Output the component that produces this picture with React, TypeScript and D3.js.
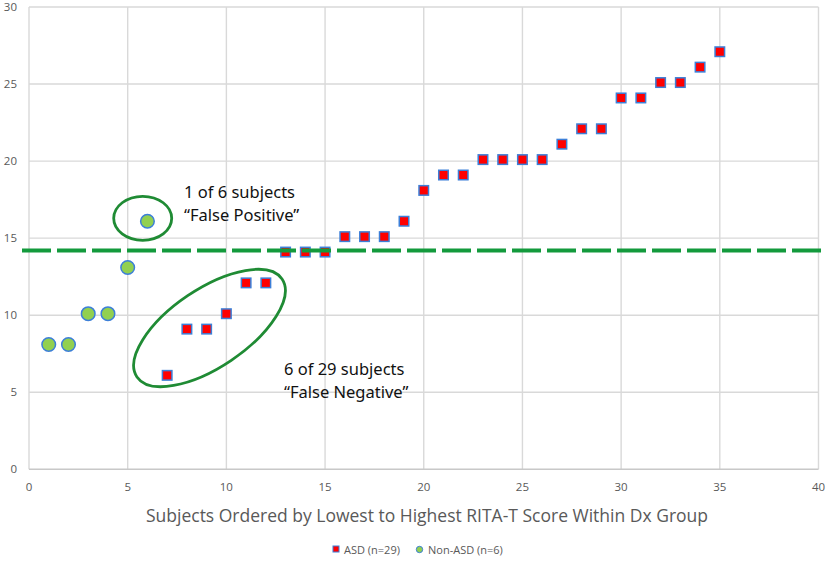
import React from "react";
import * as d3 from "d3";

const asdX = [7, 8, 9, 10, 11, 12, 13, 14, 15, 16, 17, 18, 19, 20, 21, 22, 23, 24, 25, 26, 27, 28, 29, 30, 31, 32, 33, 34, 35];
const asdY = [6, 9, 9, 10, 12, 12, 14, 14, 14, 15, 15, 15, 16, 18, 19, 19, 20, 20, 20, 20, 21, 22, 22, 24, 24, 25, 25, 26, 27];
const nonX = [1, 2, 3, 4, 5, 6];
const nonY = [8, 8, 10, 10, 13, 16];
const xTicks = [0, 5, 10, 15, 20, 25, 30, 35, 40];
const yTicks = [0, 5, 10, 15, 20, 25, 30];
const cutoff = 14.2;
const xTitle = "Subjects Ordered by Lowest to Highest RITA-T Score Within Dx Group";
const legendLabels = ["ASD (n=29)", "Non-ASD (n=6)"];
const annoFP = ["1 of 6 subjects", "\u201CFalse Positive\u201D"];
const annoFN = ["6 of 29 subjects", "\u201CFalse Negative\u201D"];

const W = 829;
const H = 562;

export default function App() {
  const x = d3.scaleLinear().domain([0, 40]).range([29, 818.5]);
  const y = d3.scaleLinear().domain([0, 30]).range([469.3, 7]);
  const grid = "#d9d9d9";
  const tickColor = "#595959";
  const font = "'Open Sans', sans-serif";
  const annoFont = "'Noto Sans', sans-serif";
  const green = "#1f8b34";
  const dashGreen = "#139a3c";
  const blue = "#3c7fd8";
  const sq = 9.5;

  return (
    <div style={{ position: "absolute", left: 0, top: 0 }}>
      <svg width={W} height={H} style={{ display: "block", background: "#fff" }}>
        {xTicks.map((t) => (
          <line key={"gx" + t} x1={x(t)} x2={x(t)} y1={y(30)} y2={y(0)} stroke={grid} strokeWidth={1.4} />
        ))}
        {yTicks.map((t) => (
          <line key={"gy" + t} x1={x(0)} x2={x(40)} y1={y(t)} y2={y(t)} stroke={t === 0 ? "#c8c8c8" : grid} strokeWidth={1.4} />
        ))}
        {xTicks.map((t) => (
          <text key={"tx" + t} x={x(t)} y={491} textAnchor="middle" fontFamily={font} fontSize={11.5} fill={tickColor}>
            {t}
          </text>
        ))}
        {yTicks.map((t) => (
          <text key={"ty" + t} x={17} y={y(t) + 4} textAnchor="end" fontFamily={font} fontSize={11.5} fill={tickColor}>
            {t}
          </text>
        ))}
        <text x={427} y={522} textAnchor="middle" fontFamily={font} fontSize={17.5} fill={tickColor}>
          {xTitle}
        </text>

        {nonX.map((v, i) => (
          <circle key={"n" + i} cx={x(v)} cy={y(nonY[i]) - 1.5} r={6.8} fill="#92d050" stroke={blue} strokeWidth={1.5} />
        ))}
        {asdX.map((v, i) => (
          <rect
            key={"a" + i}
            x={x(v) - sq / 2}
            y={y(asdY[i]) - 1.5 - sq / 2}
            width={sq}
            height={sq}
            fill="#ff0000"
            stroke={blue}
            strokeWidth={1.5}
          />
        ))}

        <line
          x1={22}
          x2={822.5}
          y1={y(cutoff)}
          y2={y(cutoff)}
          stroke={dashGreen}
          strokeWidth={4}
          strokeDasharray="29 6"
        />

        <ellipse cx={142.7} cy={218.3} rx={29} ry={22} fill="none" stroke={green} strokeWidth={2.8} />
        <ellipse
          cx={209.5}
          cy={328}
          rx={87.5}
          ry={39}
          fill="none"
          stroke={green}
          strokeWidth={2.8}
          transform="rotate(-34 209.5 328)"
        />

        <text fontFamily={annoFont} fontSize={16.5} fill="#111">
          <tspan x={184} y={198}>{annoFP[0]}</tspan>
          <tspan x={184} y={220.5}>{annoFP[1]}</tspan>
        </text>
        <text fontFamily={annoFont} fontSize={16.5} fill="#111">
          <tspan x={284} y={375}>{annoFN[0]}</tspan>
          <tspan x={284} y={398}>{annoFN[1]}</tspan>
        </text>

        <rect x={333} y={546} width={6} height={6} fill="#ff0000" stroke={blue} strokeWidth={1} />
        <text x={344} y={554} fontFamily={font} fontSize={11} fill={tickColor}>
          {legendLabels[0]}
        </text>
        <circle cx={419.5} cy={549.5} r={3.2} fill="#92d050" stroke={blue} strokeWidth={1} />
        <text x={428} y={554} fontFamily={font} fontSize={11} fill={tickColor}>
          {legendLabels[1]}
        </text>
      </svg>
    </div>
  );
}
